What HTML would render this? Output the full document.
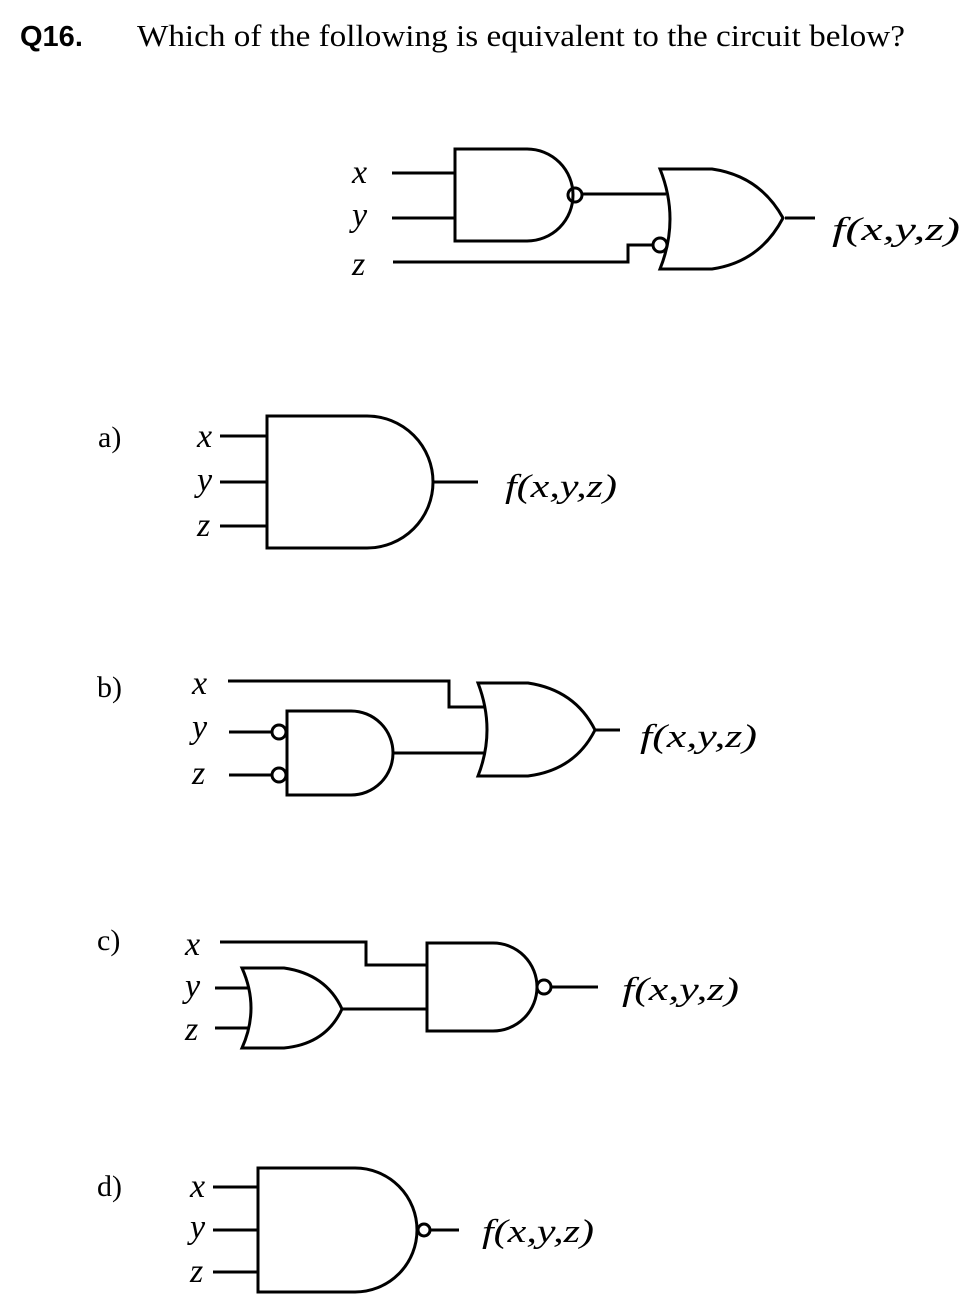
<!DOCTYPE html>
<html><head><meta charset="utf-8"><style>
html,body{margin:0;padding:0;background:#fff;}
svg{display:block;}
.l{font-family:"Liberation Serif",serif;font-style:italic;font-size:34px;}
.f{font-family:"Liberation Serif",serif;font-style:italic;font-size:33px;}
.o{font-family:"Liberation Serif",serif;font-size:30px;}
</style></head><body>
<svg width="980" height="1315" viewBox="0 0 980 1315" xmlns="http://www.w3.org/2000/svg">
<text x="20" y="46" font-family="Liberation Sans, sans-serif" font-weight="bold" font-size="29">Q16.</text>
<text x="137" y="46" font-family="Liberation Serif, serif" font-size="31" textLength="768" lengthAdjust="spacingAndGlyphs">Which of the following is equivalent to the circuit below?</text>
<g fill="none" stroke="#000" stroke-width="3">
<!-- top circuit -->
<path d="M455,149 H527 A46,46 0 0 1 527,241 H455 Z"/>
<circle cx="575" cy="195" r="7"/>
<path d="M392,173 H455 M392,218 H455 M582,194 H666"/>
<path d="M660,169 Q680,219 660,269 H712 Q760,262 783,218 Q760,176 712,169 Z"/>
<path d="M393,262 H628 V245 H653"/>
<circle cx="660" cy="245" r="7"/>
<path d="M785,218 H815"/>
<!-- a -->
<path d="M267,416 H367 A66,66 0 0 1 367,548 H267 Z"/>
<path d="M220,436 H267 M220,482 H267 M220,526 H267 M433,482 H478"/>
<!-- b -->
<path d="M228,681 H449 V707 H486"/>
<path d="M478,683 Q496,730 478,776 H528 Q575,770 595,730 Q575,690 528,683 Z"/>
<path d="M595,730 H620"/>
<path d="M287,711 H351 A42,42 0 0 1 351,795 H287 Z"/>
<path d="M393,753 H486"/>
<circle cx="279" cy="732" r="7"/>
<circle cx="279" cy="775" r="7"/>
<path d="M229,732 H272 M229,775 H272"/>
<!-- c -->
<path d="M220,942 H366 V965 H427"/>
<path d="M427,943 H493 A44,44 0 0 1 493,1031 H427 Z"/>
<circle cx="544" cy="987" r="7"/>
<path d="M551,987 H598"/>
<path d="M242,968 Q260,1008 242,1048 H284 Q326,1044 342,1009 Q326,974 284,968 Z"/>
<path d="M342,1009 H427 M215,988 H248 M215,1028 H248"/>
<!-- d -->
<path d="M258,1168 H355 A62,62 0 0 1 355,1292 H258 Z"/>
<circle cx="424" cy="1230" r="6"/>
<path d="M430,1230 H459 M213,1187 H258 M213,1230 H258 M213,1272 H258"/>
</g>
<!-- labels -->
<text class="l" x="352" y="183">x</text>
<text class="l" x="352" y="226">y</text>
<text class="l" x="352" y="275">z</text>
<text class="f" x="832" y="240" textLength="128" lengthAdjust="spacingAndGlyphs">f(x,y,z)</text>

<text class="o" x="98" y="447">a)</text>
<text class="l" x="197" y="447">x</text>
<text class="l" x="197" y="491">y</text>
<text class="l" x="197" y="536">z</text>
<text class="f" x="505" y="497" textLength="112" lengthAdjust="spacingAndGlyphs">f(x,y,z)</text>

<text class="o" x="97" y="697">b)</text>
<text class="l" x="192" y="694">x</text>
<text class="l" x="192" y="738">y</text>
<text class="l" x="192" y="784">z</text>
<text class="f" x="640" y="747" textLength="117" lengthAdjust="spacingAndGlyphs">f(x,y,z)</text>

<text class="o" x="97" y="950">c)</text>
<text class="l" x="185" y="955">x</text>
<text class="l" x="185" y="997">y</text>
<text class="l" x="185" y="1040">z</text>
<text class="f" x="622" y="1000" textLength="117" lengthAdjust="spacingAndGlyphs">f(x,y,z)</text>

<text class="o" x="97" y="1196">d)</text>
<text class="l" x="190" y="1197">x</text>
<text class="l" x="190" y="1238">y</text>
<text class="l" x="190" y="1282">z</text>
<text class="f" x="482" y="1242" textLength="112" lengthAdjust="spacingAndGlyphs">f(x,y,z)</text>
</svg>
</body></html>
